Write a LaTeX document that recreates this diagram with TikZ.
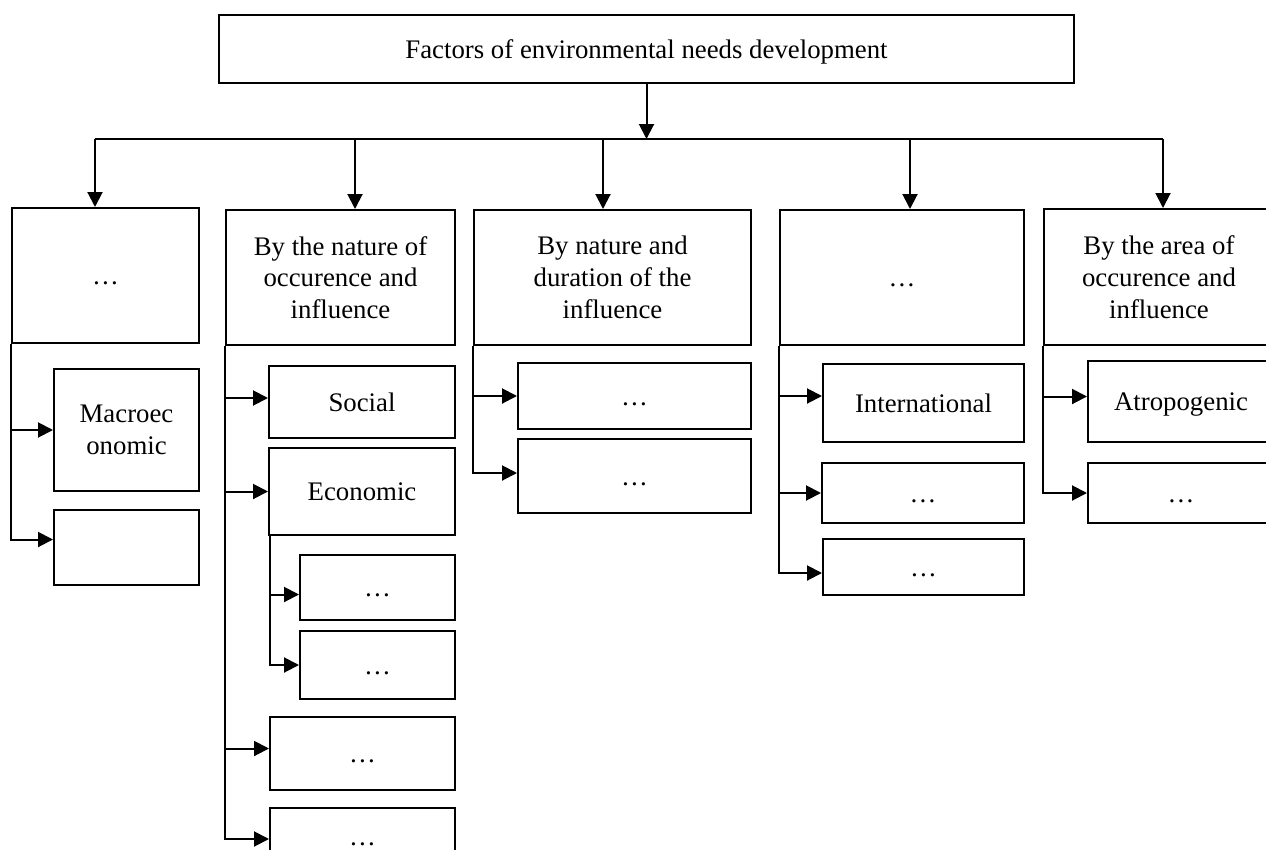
\documentclass[tikz,border=0pt]{standalone}
\usepackage{fontspec}
\setmainfont{Liberation Serif}
\usetikzlibrary{arrows.meta}
\begin{document}
\begin{tikzpicture}[x=1pt,y=-1pt,
  box/.style={draw,line width=2pt,anchor=north west,inner sep=0pt,
    align=center,font=\fontsize{26.8}{31.7}\selectfont},
  one/.style={box,text height=24pt,text depth=6pt},
  link/.style={line width=2pt},
  arr/.style={link,-{Triangle[length=15pt,width=15pt]}}]
\useasboundingbox (0,0) rectangle (1266,849);
% root
\node[one,minimum width=855pt,minimum height=68pt] (top) at (218,14)
  {Factors of environmental needs development};
% first level
\node[one,minimum width=187pt,minimum height=135pt] (A) at (11,207) {\dots};
\node[box,minimum width=229pt,minimum height=135pt] (B) at (225,209)
  {By the nature of\\occurence and\\influence};
\node[box,minimum width=277pt,minimum height=135pt] (C) at (473,209)
  {By nature and\\duration of the\\influence};
\node[one,minimum width=244pt,minimum height=135pt] (D) at (779,209) {\dots};
\node[box,minimum width=230pt,minimum height=136pt] (E) at (1043,208)
  {By the area of\\occurence and\\influence};
% second level
\node[box,minimum width=145pt,minimum height=122pt] (A1) at (53,368) {Macroec\\onomic};
\node[one,minimum width=145pt,minimum height=75pt] (A2) at (53,509) {};
\node[one,minimum width=186pt,minimum height=72pt] (B1) at (268,365) {Social};
\node[one,minimum width=186pt,minimum height=87pt] (B2) at (268,447) {Economic};
\node[one,minimum width=155pt,minimum height=65pt] (B2a) at (299,554) {\dots};
\node[one,minimum width=155pt,minimum height=68pt] (B2b) at (299,630) {\dots};
\node[one,minimum width=185pt,minimum height=73pt] (B3) at (269,716) {\dots};
% this box runs on past the lower edge
\node[box,text height=10pt,text depth=2pt,minimum width=185pt,minimum height=66pt]
  (B4) at (269,807) {\dots};
\node[one,minimum width=233pt,minimum height=66pt] (C1) at (517,362) {\dots};
\node[one,minimum width=233pt,minimum height=74pt] (C2) at (517,438) {\dots};
\node[one,minimum width=201pt,minimum height=78pt] (D1) at (822,363) {International};
\node[one,minimum width=202pt,minimum height=60pt] (D2) at (821,462) {\dots};
\node[one,minimum width=201pt,minimum height=56pt] (D3) at (822,538) {\dots};
\node[one,minimum width=186pt,minimum height=81pt] (E1) at (1087,360) {Atropogenic};
\node[one,minimum width=186pt,minimum height=60pt] (E2) at (1087,462) {\dots};
% distribution bus
\coordinate (dA) at (95,139);
\coordinate (dB) at (355,139);
\coordinate (dC) at (603,139);
\coordinate (dD) at (910,139);
\coordinate (dE) at (1163,139);
\draw[arr] (top.south) -- (top.south |- dA);
\draw[link] (dA) -- (dE);
\foreach \d/\n in {dA/A,dB/B,dC/C,dD/D,dE/E}
  \draw[arr] (\d) -- (\d |- \n.north);
% branches
\draw[arr] (A.south west) |- (A1.west);
\draw[arr] (A.south west) |- ([yshift=8pt]A2.west);
\draw[arr] (B.south west) |- ([yshift=4pt]B1.west);
\draw[arr] (B.south west) |- (B2.west);
\draw[arr] (B.south west) |- ([yshift=5pt]B3.west);
\draw[arr] (B.south west) |- ([yshift=2pt]B4.west);
\draw[arr] ([xshift=2pt]B2.south west) |- ([yshift=-7pt]B2a.west);
\draw[arr] ([xshift=2pt]B2.south west) |- (B2b.west);
\draw[arr] (C.south west) |- (C1.west);
\draw[arr] (C.south west) |- ([yshift=3pt]C2.west);
\draw[arr] (D.south west) |- ([yshift=7pt]D1.west);
\draw[arr] (D.south west) |- (D2.west);
\draw[arr] (D.south west) |- ([yshift=-6pt]D3.west);
\draw[arr] (E.south west) |- ([yshift=5pt]E1.west);
\draw[arr] (E.south west) |- (E2.west);
\end{tikzpicture}
\end{document}
